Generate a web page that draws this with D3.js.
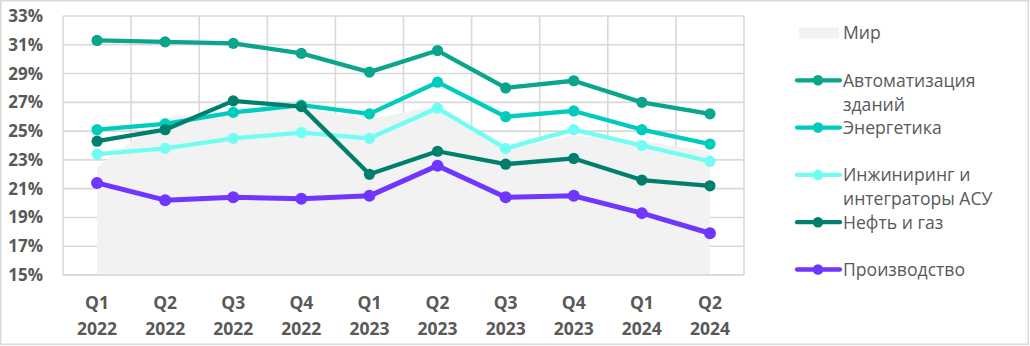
<!DOCTYPE html>
<html>
<head>
<meta charset="utf-8">
<script src="https://cdn.jsdelivr.net/npm/d3@7"></script>
<style>
  html, body { margin: 0; padding: 0; background: #fff; }
  svg { display: block; font-family: "Open Sans", sans-serif; }
</style>
</head>
<body>
<svg id="chart" width="1030" height="346"></svg>
<script>
const quarters = ["Q1", "Q2", "Q3", "Q4", "Q1", "Q2", "Q3", "Q4", "Q1", "Q2"];
const years = ["2022", "2022", "2022", "2022", "2023", "2023", "2023", "2023", "2024", "2024"];
const categories = quarters.map((q, i) => q + " " + years[i]);
const yTicks = [15, 17, 19, 21, 23, 25, 27, 29, 31, 33];

const mir = [22.5, 26.0, 26.3, 26.6, 25.8, 26.8, 23.8, 24.7, 24.3, 23.6];
const avtomatizaciya = [31.3, 31.2, 31.1, 30.4, 29.1, 30.6, 28.0, 28.5, 27.0, 26.2];
const energetika = [25.1, 25.5, 26.3, 26.8, 26.2, 28.4, 26.0, 26.4, 25.1, 24.1];
const inzhiniring = [23.4, 23.8, 24.5, 24.9, 24.5, 26.6, 23.8, 25.1, 24.0, 22.9];
const neft = [24.3, 25.1, 27.1, 26.7, 22.0, 23.6, 22.7, 23.1, 21.6, 21.2];
const proizvodstvo = [21.4, 20.2, 20.4, 20.3, 20.5, 22.6, 20.4, 20.5, 19.3, 17.9];

const seriesNames = ["Автоматизация зданий", "Энергетика", "Инжиниринг и интеграторы АСУ", "Нефть и газ", "Производство"];
const seriesValues = [avtomatizaciya, energetika, inzhiniring, neft, proizvodstvo];
const seriesColors = ["#0AA58B", "#00CCBE", "#72FDF3", "#007F6C", "#6E36FF"];
const legendLabels = [["Мир"], ["Автоматизация", "зданий"], ["Энергетика"], ["Инжиниринг и", "интеграторы АСУ"], ["Нефть и газ"], ["Производство"]];

const svg = d3.select("#chart");
const textColor = "#595959";
const gridColor = "#D9D9D9";

// outer border
svg.append("rect").attr("x", 0.75).attr("y", 0.75).attr("width", 1027.5).attr("height", 343.5)
  .attr("fill", "#fff").attr("stroke", gridColor).attr("stroke-width", 1.5);

const x = d3.scaleBand().domain(categories).range([63, 744]).padding(0);
const cx = c => x(c) + x.bandwidth() / 2;
const y = d3.scaleLinear().domain([15, 33]).range([275, 16]);

// grid
const grid = svg.append("g");
grid.selectAll("line.h").data(yTicks).join("line")
  .attr("x1", 63).attr("x2", 744)
  .attr("y1", d => y(d)).attr("y2", d => y(d))
  .attr("stroke", gridColor).attr("stroke-width", 1.6);
grid.selectAll("line.v").data(categories.map(c => x(c)).concat([x.range()[1]])).join("line")
  .attr("x1", d => d).attr("x2", d => d)
  .attr("y1", y(33)).attr("y2", y(15))
  .attr("stroke", gridColor).attr("stroke-width", 1.6);

// area Мир
const area = d3.area()
  .x((d, i) => cx(categories[i]))
  .y0(y(15))
  .y1(d => y(d));
svg.append("path").datum(mir).attr("d", area).attr("fill", "#F2F2F2");

// redraw bottom axis line over area
svg.append("line").attr("x1", 63).attr("x2", 744).attr("y1", y(15)).attr("y2", y(15))
  .attr("stroke", gridColor).attr("stroke-width", 1.6);

// lines
const line = d3.line().x((d, i) => cx(categories[i])).y(d => y(d));
seriesValues.forEach((vals, si) => {
  const g = svg.append("g");
  const w = si === 4 ? 5 : 4.3;
  const r = si === 4 ? 6 : 5.6;
  g.append("path").datum(vals).attr("d", line)
    .attr("fill", "none").attr("stroke", seriesColors[si])
    .attr("stroke-width", w).attr("stroke-linejoin", "round");
  g.selectAll("circle").data(vals).join("circle")
    .attr("cx", (d, i) => cx(categories[i])).attr("cy", d => y(d))
    .attr("r", r).attr("fill", seriesColors[si]);
});

// y axis labels
svg.append("g").selectAll("text").data(yTicks).join("text")
  .attr("x", 43).attr("y", d => y(d) + 6)
  .attr("text-anchor", "end")
  .attr("font-size", 17).attr("font-weight", 700).attr("fill", textColor)
  .text(d => d + "%");

// x axis labels
const xl = svg.append("g").selectAll("g").data(categories).join("g");
xl.append("text").attr("x", d => cx(d)).attr("y", 308.5)
  .attr("text-anchor", "middle").attr("font-size", 17.5).attr("font-weight", 700).attr("fill", textColor)
  .text((d, i) => quarters[i]);
xl.append("text").attr("x", d => cx(d)).attr("y", 334.5)
  .attr("text-anchor", "middle").attr("font-size", 17.5).attr("font-weight", 700).attr("fill", textColor)
  .text((d, i) => years[i]);

// legend
const legendY = i => 33 + i * 47.3;
const leg = svg.append("g");
leg.append("rect").attr("x", 799).attr("y", legendY(0) - 5.5).attr("width", 40).attr("height", 11).attr("fill", "#F2F2F2");
seriesColors.forEach((col, si) => {
  const ly = legendY(si + 1);
  leg.append("line").attr("x1", 797).attr("x2", 840).attr("y1", ly).attr("y2", ly)
    .attr("stroke", col).attr("stroke-width", 4.3).attr("stroke-linecap", "round");
  leg.append("circle").attr("cx", 818).attr("cy", ly).attr("r", 5.3).attr("fill", col);
});
legendLabels.forEach((lines, i) => {
  const t = leg.append("text").attr("x", 843).attr("y", legendY(i) + 6.4)
    .attr("font-size", 17.6).attr("fill", textColor);
  lines.forEach((s, k) => {
    t.append("tspan").attr("x", 843).attr("dy", k === 0 ? 0 : 24).text(s);
  });
});
</script>
</body>
</html>
